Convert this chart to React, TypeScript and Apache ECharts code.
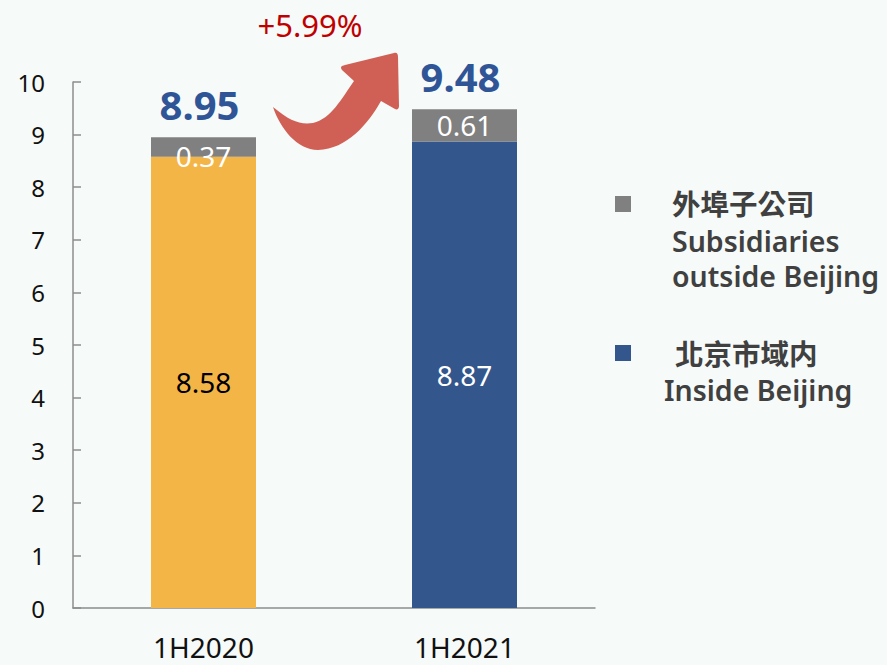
import React, { useEffect, useRef } from "react";
import * as echarts from "echarts";

const categories = ["1H2020", "1H2021"];
const insideBeijing = [8.58, 8.87];
const outsideBeijing = [0.37, 0.61];
const totals = [8.95, 9.48];
const growthLabel = "+5.99%";
const legendOutside = ["外埠子公司", "Subsidiaries", "outside Beijing"];
const legendInside = ["北京市域内", "Inside Beijing"];

const FONT = "'Noto Sans', 'Noto Sans CJK TC', sans-serif";
const ORANGE = "#F4B547";
const BLUE = "#33568C";
const GREY = "#808080";

const ARROW_D =
  "M273,107 C290,121 300,125 313,123 C331,119 342,98 354,81 L342,70 C340,67 341,66 345,65 L394,53 C397,52 398,54 398,57 L399,106 C399,109 397,110 395,109 L381,101 C368,124 347,149 318,150 C297,150 280,128 273,107 Z";

let registered = false;

export default function App() {
  const ref = useRef<HTMLDivElement>(null);
  useEffect(() => {
    if (!registered) {
      echarts.graphic.registerShape("logo", echarts.graphic.extendPath(ARROW_D, {}) as any);
      registered = true;
    }
    const chart = echarts.init(ref.current!, undefined, { renderer: "svg" });
    const legendText = (text: string, x: number, y: number) => ({
      type: "text",
      x,
      y,
      style: { text, font: `600 28.5px ${FONT}`, fill: "#404040", verticalAlign: "middle", align: "left" },
    });
    chart.setOption({
      animation: false,
      backgroundColor: "#F6FAF8",
      textStyle: { fontFamily: FONT },
      grid: { left: 73, right: 292, top: 82, bottom: 57 },
      xAxis: {
        type: "category",
        data: categories,
        axisLine: { lineStyle: { color: "#8C8C8C", width: 1.5 } },
        axisTick: { inside: true, length: 10, lineStyle: { color: "#8C8C8C", width: 1.5 } },
        axisLabel: { fontSize: 28, color: "#111", margin: 25, fontFamily: FONT },
      },
      yAxis: {
        type: "value",
        min: 0,
        max: 10,
        interval: 1,
        splitLine: { show: false },
        axisLine: { show: true, lineStyle: { color: "#8C8C8C", width: 1.5 } },
        axisTick: { show: true, inside: true, length: 8, lineStyle: { color: "#8C8C8C", width: 1.5 } },
        axisLabel: { fontSize: 24, color: "#111", margin: 28, fontFamily: FONT },
      },
      series: [
        {
          name: "Inside Beijing",
          type: "bar",
          stack: "a",
          barWidth: 105,
          data: insideBeijing.map((v, i) => ({
            value: v,
            itemStyle: { color: i === 0 ? ORANGE : BLUE },
            label: { color: i === 0 ? "#000" : "#fff" },
          })),
          label: { show: true, position: "inside", fontSize: 28, fontFamily: FONT },
        },
        {
          name: "Subsidiaries outside Beijing",
          type: "bar",
          stack: "a",
          barWidth: 105,
          itemStyle: { color: GREY },
          data: outsideBeijing.map((v, i) => ({
            value: v,
            label: { offset: [0, i === 0 ? 9 : 0] },
          })),
          label: { show: true, position: "inside", fontSize: 28, color: "#fff", fontFamily: FONT },
        },
        {
          name: "Total",
          type: "scatter",
          data: totals,
          symbol: "circle",
          symbolSize: 2,
          itemStyle: { color: "rgba(0,0,0,0)", opacity: 1 },
          z: 5,
          label: {
            show: true,
            position: "top",
            distance: 12,
            offset: [-4, 0],
            fontSize: 40,
            fontWeight: "bold",
            color: "#2F5597",
            opacity: 1,
            fontFamily: FONT,
          },
        },
      ],
      graphic: [
        { type: "logo", x: 0, y: 0, style: { fill: "#D06055" } },
        {
          type: "text",
          x: 310,
          y: 25,
          style: { text: growthLabel, font: `normal 31px ${FONT}`, fill: "#C00000", align: "center", verticalAlign: "middle" },
        },
        { type: "rect", shape: { x: 615, y: 196, width: 16, height: 16 }, style: { fill: GREY } },
        legendText(legendOutside[0], 672, 204),
        legendText(legendOutside[1], 672, 241),
        legendText(legendOutside[2], 672, 276),
        { type: "rect", shape: { x: 615, y: 345, width: 16, height: 16 }, style: { fill: BLUE } },
        legendText(legendInside[0], 675, 354),
        legendText(legendInside[1], 664, 390),
      ],
    });
    return () => chart.dispose();
  }, []);
  return (
    <div
      ref={ref}
      style={{ position: "absolute", left: 0, top: 0, width: 887, height: 665 }}
    />
  );
}
